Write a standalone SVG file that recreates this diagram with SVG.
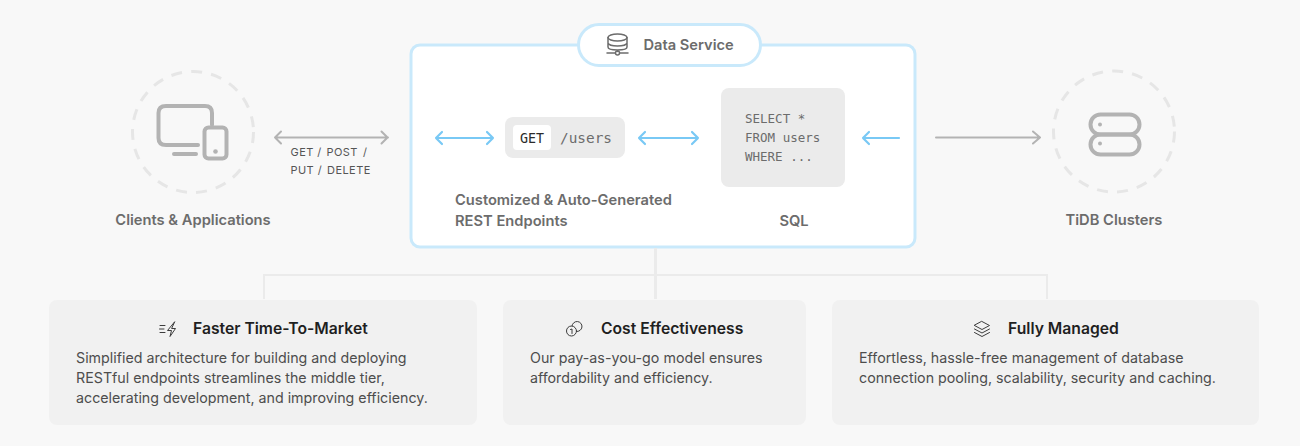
<svg xmlns="http://www.w3.org/2000/svg" width="1300" height="446" viewBox="0 0 1300 446">
<defs>
<style>
text{font-family:Inter,"Liberation Sans",sans-serif}
.lab{font-size:14.7px;font-weight:600;fill:#6c6c6c}
.mono{font-family:"DejaVu Sans Mono","Liberation Mono",monospace;font-size:12.5px;fill:#6c6c6c}
.card{fill:#f1f1f1}
.ct{font-size:15.7px;font-weight:600;fill:#1f1f1f}
.cb{font-size:14.25px;fill:#4d4d4d}
.http{font-size:11px;fill:#555;letter-spacing:.45px}
.dash{fill:none;stroke:#e6e6e6;stroke-width:3;stroke-dasharray:11 9.2}
.ico{fill:none;stroke:#b3b3b3;stroke-width:4;stroke-linecap:round;stroke-linejoin:round}
.grey{fill:none;stroke:#b3b3b3;stroke-width:2;stroke-linecap:round;stroke-linejoin:round}
.blue{fill:none;stroke:#79c9f5;stroke-width:2.2;stroke-linecap:round;stroke-linejoin:round}
.conn{fill:none;stroke:#ebebeb;stroke-width:2}
.small{fill:none;stroke:#3d3d3d;stroke-width:1;stroke-linecap:round;stroke-linejoin:round}
.gi{fill:none;stroke:#6c6c6c;stroke-width:1.5;stroke-linecap:round;stroke-linejoin:round}
</style>
</defs>
<rect width="1300" height="446" fill="#f8f8f8"/>
<g id="clients">
<circle class="dash" cx="193" cy="132" r="60.500"/>
<path class="ico" d="M212 125V113Q212 106 205 106H166Q158.500 106 158.500 113V138Q158.500 145 166 145H198M174 154H196"/>
<rect class="ico" x="204.500" y="127.500" width="22" height="31" rx="4"/>
<circle cx="215.500" cy="151.500" r="2.300" fill="#b3b3b3"/>
<text class="lab" x="193" y="225" text-anchor="middle">Clients &amp; Applications</text>
</g>
<g id="http-methods">
<text class="http" y="156"><tspan x="290.500">GET /</tspan><tspan x="326.500">POST</tspan><tspan x="363">/</tspan></text>
<text class="http" y="174"><tspan x="290.500">PUT /</tspan><tspan x="327">DELETE</tspan></text>
</g>
<g id="data-service">
<rect x="411" y="45" width="504" height="202" rx="9" fill="#fff" stroke="#c9e9fb" stroke-width="3"/>
<rect x="578.500" y="24.500" width="182" height="41" rx="20.500" fill="#fff" stroke="#c9e9fb" stroke-width="3"/>
<g>
<ellipse class="gi" cx="617.500" cy="37.500" rx="9.500" ry="3.500"/>
<path class="gi" d="M608 37.500V47Q608 50 617.500 50T627 47V37.500M608 43Q609 46 617.500 46T627 43M617.500 50V51.500"/>
<circle class="gi" cx="617.500" cy="53" r="2"/>
<path class="gi" d="M607 53H615M620 53H628"/>
</g>
<text x="643.500" y="49.500" font-size="14.650" font-weight="600" fill="#6c6c6c">Data Service</text>
</g>
<g id="rest-endpoints">
<rect x="505" y="117" width="120" height="41" rx="8" fill="#ebebeb"/>
<rect x="513" y="125" width="38" height="25" rx="4" fill="#fff"/>
<text class="mono" x="520" y="142.500" style="font-size:13.300px;fill:#2b2b2b">GET</text>
<text class="mono" x="560" y="142.500" style="font-size:14.400px">/users</text>
<text class="lab" x="455" y="205">Customized &amp; Auto-Generated</text>
<text class="lab" x="455" y="226">REST Endpoints</text>
</g>
<g id="sql">
<rect x="721" y="88" width="124" height="99" rx="8" fill="#ebebeb"/>
<text class="mono" x="745" y="123">SELECT *</text>
<text class="mono" x="745" y="142">FROM users</text>
<text class="mono" x="745" y="160.500">WHERE ...</text>
<text class="lab" x="794" y="226" text-anchor="middle">SQL</text>
</g>
<g id="tidb">
<circle class="dash" cx="1114" cy="131.500" r="60.500"/>
<rect class="ico" x="1090.500" y="114.500" width="49" height="20" rx="10"/>
<rect class="ico" x="1090.500" y="134.500" width="49" height="20" rx="10"/>
<circle cx="1100" cy="124.500" r="2" fill="#b3b3b3"/>
<circle cx="1100" cy="143.500" r="2" fill="#b3b3b3"/>
<text class="lab" x="1114" y="225" text-anchor="middle">TiDB Clusters</text>
</g>
<g id="connectors">
<path class="conn" d="M264 299V275H1047V299"/>
<path class="conn" style="stroke-width:3" d="M655.500 248V299"/>
<path class="grey" d="M275 137.500H388M281 131.500L275 137.500L281 143.500M381.500 131.500L387.500 137.500L381.500 143.500"/>
<path class="grey" d="M936 137.500H1040M1033 131.500L1040 137.500L1033 143.500"/>
<path class="blue" d="M436 138H493M442 132L436 138L442 144M487 132L493 138L487 144"/>
<path class="blue" d="M639 138H698M645 132L639 138L645 144M692 132L698 138L692 144"/>
<path class="blue" d="M863 138H899M869 132L863 138L869 144"/>
</g>
<g id="card-faster">
<rect class="card" x="49" y="300" width="428" height="125" rx="8"/>
<path class="small" d="M160 325.500H165M159.500 329H164M160 332.500H165M174.500 322L167.500 330.500H171.500L170 336.500L175.500 328.500H172Z"/>
<text class="ct" x="193" y="334">Faster Time-To-Market</text>
<text class="cb" x="76" y="363">Simplified architecture for building and deploying</text>
<text class="cb" x="76" y="383">RESTful endpoints streamlines the middle tier,</text>
<text class="cb" x="76" y="403">accelerating development, and improving efficiency.</text>
</g>
<g id="card-cost">
<rect class="card" x="503" y="300" width="303" height="125" rx="8"/>
<circle class="small" cx="571.500" cy="331" r="5"/>
<path class="small" d="M572 326A5 5 0 1 1 576.500 331.500"/>
<path class="small" d="M570.500 329.500L572 329V333.500"/>
<text class="ct" x="601" y="334">Cost Effectiveness</text>
<text class="cb" x="530" y="363">Our pay-as-you-go model ensures</text>
<text class="cb" x="530" y="383">affordability and efficiency.</text>
</g>
<g id="card-managed">
<rect class="card" x="832" y="300" width="427" height="125" rx="8"/>
<path class="small" d="M982 321.500L989.500 325.500L982 329.500L974.500 325.500ZM974.500 329L982 333L989.500 329M974.500 332.500L982 336.500L989.500 332.500"/>
<text class="ct" x="1008" y="334">Fully Managed</text>
<text class="cb" x="859" y="363">Effortless, hassle-free management of database</text>
<text class="cb" x="859" y="383">connection pooling, scalability, security and caching.</text>
</g>
</svg>
